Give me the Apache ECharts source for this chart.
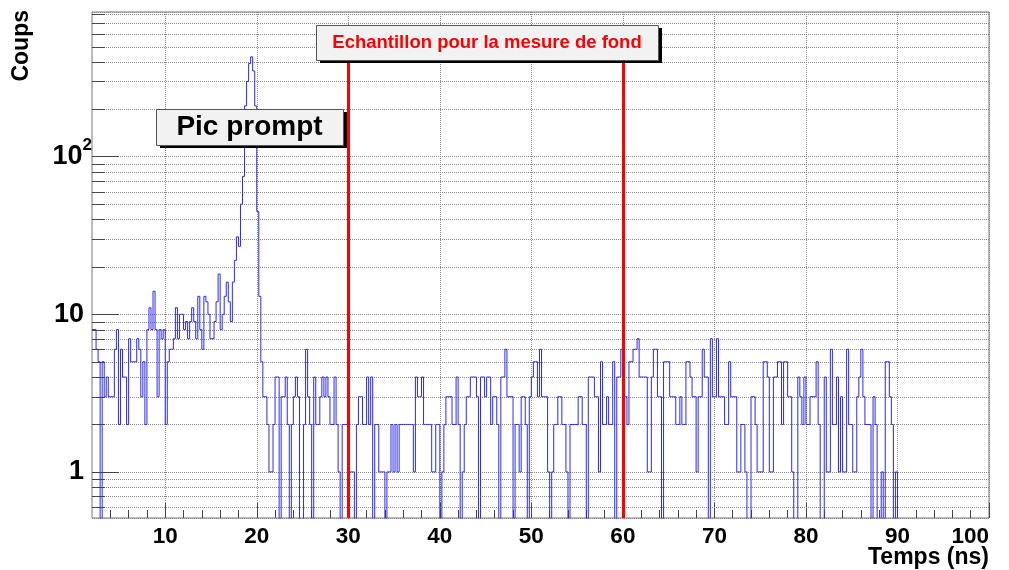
<!DOCTYPE html>
<html>
<head>
<meta charset="utf-8">
<title>Spectre en temps</title>
<script src="https://cdn.jsdelivr.net/npm/echarts@6/dist/echarts.min.js"></script>
<style>
  html, body { margin: 0; padding: 0; background: #ffffff; }
  #chart { width: 1009px; height: 570px; }
</style>
</head>
<body>
<div id="chart"></div>
<script>
// Histogram binning (ns)
const binStart = 2;
const binWidth = 2 / 9;

// Counts per bin, 9 bins per 2 ns, starting at 2 ns
const counts = [
  8, 8, 6, 5, 0, 5, 3, 4, 3,
  3, 3, 6, 8, 2, 6, 4, 4, 2,
  7, 5, 5, 5, 7, 6, 3, 5, 2,
  8, 11, 8, 14, 8, 3, 8, 7, 8,
  2, 5, 6, 6, 7, 11, 7, 10, 10,
  8, 9, 7, 9, 11, 9, 7, 13, 8,
  6, 13, 12, 10, 7, 7, 9, 12, 18,
  8, 10, 13, 16, 12, 9, 16, 22, 31,
  27, 50, 75, 210, 300, 390, 430, 350, 210,
  45, 13, 5, 3, 3, 2, 1, 1, 2,
  4, 4, 0, 3, 3, 4, 2, 0, 2,
  3, 4, 3, 0, 0, 2, 6, 3, 2,
  0, 4, 2, 2, 3, 4, 3, 4, 3,
  2, 2, 4, 2, 1, 0, 2, 2, 2,
  1, 1, 1, 0, 2, 3, 3, 2, 2,
  4, 2, 4, 0, 2, 2, 1, 1, 1,
  0, 1, 1, 2, 1, 2, 1, 2, 2,
  2, 2, 2, 2, 2, 1, 4, 3, 3,
  4, 2, 2, 2, 2, 1, 1, 2, 2,
  0, 1, 2, 3, 3, 3, 2, 2, 4,
  2, 0, 1, 2, 3, 3, 4, 4, 4,
  3, 0, 4, 4, 3, 4, 4, 2, 3,
  3, 2, 0, 4, 4, 6, 3, 3, 3,
  0, 2, 2, 1, 3, 3, 2, 0, 3,
  4, 5, 5, 3, 6, 3, 3, 3, 1,
  0, 1, 2, 2, 3, 3, 2, 2, 1,
  0, 2, 2, 2, 2, 3, 3, 2, 2,
  0, 4, 4, 4, 3, 3, 1, 5, 2,
  2, 3, 2, 2, 5, 0, 4, 4, 6,
  3, 3, 2, 5, 5, 6, 6, 7, 4,
  4, 4, 4, 1, 1, 4, 6, 6, 3,
  3, 0, 5, 5, 5, 3, 3, 3, 2,
  2, 3, 2, 2, 5, 5, 4, 3, 3,
  1, 3, 3, 6, 4, 4, 0, 7, 3,
  3, 7, 3, 3, 3, 2, 2, 5, 3,
  3, 3, 1, 1, 2, 2, 1, 0, 0,
  3, 3, 2, 1, 1, 1, 5, 5, 4,
  1, 1, 4, 4, 5, 5, 2, 5, 5,
  3, 3, 1, 0, 0, 4, 3, 2, 4,
  2, 2, 3, 3, 3, 5, 2, 0, 0,
  4, 1, 1, 6, 2, 2, 4, 1, 3,
  1, 1, 6, 2, 2, 1, 1, 3, 4,
  6, 3, 2, 2, 2, 0, 3, 2, 0,
  0, 1, 0, 5, 5, 3, 2, 0, 1
];

// Axis ranges and ticks
const xRange = [2, 100];
const yRange = [0.51, 828];
const xMajorTicks = [10, 20, 30, 40, 50, 60, 70, 80, 90, 100];
const xMinorTicks = [4, 6, 8, 12, 14, 16, 18, 22, 24, 26, 28, 32, 34, 36, 38, 42, 44, 46, 48,
                     52, 54, 56, 58, 62, 64, 66, 68, 72, 74, 76, 78, 82, 84, 86, 88, 92, 94, 96, 98];
const yMinorTicks = [0.6, 0.7, 0.8, 0.9, 2, 3, 4, 5, 6, 7, 8, 9,
                     20, 30, 40, 50, 60, 70, 80, 90, 200, 300, 400, 500, 600, 700, 800];
// label per decade: [mantissa text, exponent text]
const yTickLabels = { 1: ['1', ''], 10: ['10', ''], 100: ['10', '2'] };

// Background sample window (ns) and the top of its marker lines (counts)
const windowEdges = [30, 60];
const windowLineTop = 450;

const FONT = '"Liberation Sans", Arial, Helvetica, sans-serif';
const ZERO_FLOOR = 0.05; // empty bins sit below the axis and are clipped

// Step outline: one point per bin left edge, plus the closing edge
const stepData = counts.map((c, i) => [binStart + i * binWidth, c > 0 ? c : ZERO_FLOOR]);
stepData.push([binStart + counts.length * binWidth, ZERO_FLOOR]);

const dotted = { color: '#8a8a8a', width: 1, type: [1, 1] };

const option = {
  animation: false,
  backgroundColor: '#ffffff',
  grid: {
    left: 92, right: 20, top: 12, bottom: 52,
    show: true, borderColor: '#777777', borderWidth: 1,
    containLabel: false
  },
  xAxis: [
    {
      type: 'value', min: xRange[0], max: xRange[1], position: 'bottom',
      axisLine: { show: false },
      axisTick: { show: true, inside: true, length: 15, customValues: xMajorTicks,
                  lineStyle: { color: '#444', width: 1 } },
      axisLabel: { show: true, customValues: xMajorTicks, margin: 7, alignMaxLabel: 'right',
                   fontSize: 22.5, fontWeight: 'bold', fontFamily: FONT, color: '#000' },
      splitLine: { show: true, lineStyle: dotted }
    },
    {
      type: 'value', min: xRange[0], max: xRange[1], position: 'bottom',
      axisLine: { show: false },
      axisTick: { show: true, inside: true, length: 8, customValues: xMinorTicks,
                  lineStyle: { color: '#444', width: 1 } },
      axisLabel: { show: false },
      splitLine: { show: false }
    }
  ],
  yAxis: [
    {
      type: 'log', logBase: 10, min: yRange[0], max: yRange[1], position: 'left',
      axisLine: { show: false },
      axisTick: { show: true, inside: true, length: 27, lineStyle: { color: '#444', width: 1 } },
      axisLabel: {
        show: true, margin: 0, showMinLabel: false, showMaxLabel: false,
        formatter: function (v) {
          const lab = yTickLabels[Math.round(v)];
          if (lab === undefined) return '';
          return lab[1] ? '{b|' + lab[0] + '}{s|' + lab[1] + '}' : '{b|' + lab[0] + '}{p| }';
        },
        rich: {
          b: { fontSize: 27, lineHeight: 40, fontWeight: 'bold', fontFamily: FONT, color: '#000' },
          s: { fontSize: 17, lineHeight: 17, verticalAlign: 'top', fontWeight: 'bold', fontFamily: FONT, color: '#000' },
          p: { width: 8, fontSize: 17 }
        }
      },
      splitLine: { show: true, lineStyle: dotted }
    }
  ],
  series: [
    {
      name: 'Coups',
      type: 'line',
      step: 'end',
      data: stepData,
      showSymbol: false,
      clip: true,
      lineStyle: { color: '#2b2bf2', width: 1 },
      z: 3,
      markLine: {
        silent: true,
        symbol: ['none', 'none'],
        label: { show: false },
        lineStyle: { color: '#ff0000', width: 3, type: 'solid' },
        data: windowEdges.map(x => [{ coord: [x, yRange[0]] }, { coord: [x, windowLineTop] }])
      }
    }
  ]
};

const chart = echarts.init(document.getElementById('chart'), null, { renderer: 'canvas' });
chart.setOption(option);

// Log-axis minor grid lines and ticks, placed through the axis scale
const xL = chart.convertToPixel({ xAxisIndex: 0 }, xRange[0]);
const xR = chart.convertToPixel({ xAxisIndex: 0 }, xRange[1]);
const extra = [];
yMinorTicks.forEach(v => {
  const y = Math.round(chart.convertToPixel({ yAxisIndex: 0 }, v)) + 0.5;
  extra.push({ type: 'line', silent: true, z: 1,
    shape: { x1: xL, y1: y, x2: xR, y2: y },
    style: { stroke: '#8a8a8a', lineWidth: 1, lineDash: [1, 1] } });
  extra.push({ type: 'line', silent: true, z: 2,
    shape: { x1: xL, y1: y, x2: xL + 13, y2: y },
    style: { stroke: '#444', lineWidth: 1 } });
});

// Text box with a drop shadow, drawn above the plot
function pave(x, y, w, h, text, font, color) {
  return [
    { type: 'rect', silent: true, z: 20, shape: { x: x + 4, y: y + 3, width: w, height: h },
      style: { fill: '#000' } },
    { type: 'rect', silent: true, z: 21, shape: { x: x + 0.5, y: y + 0.5, width: w, height: h },
      style: { fill: '#f2f2f2', stroke: '#555', lineWidth: 1 } },
    { type: 'text', silent: true, z: 22, x: x + w / 2, y: y + h / 2,
      style: { text: text, font: font, fill: color, align: 'center', verticalAlign: 'middle' } }
  ];
}

const boxes = []
  .concat(pave(156, 109, 187, 36, 'Pic prompt', 'bold 28px ' + FONT, '#000'))
  .concat(pave(316, 25, 342, 35, 'Echantillon pour la mesure de fond', 'bold 18.5px ' + FONT, '#ff0000'));

const titles = [
  { type: 'text', silent: true, z: 10, x: 989, y: 558,
    style: { text: 'Temps (ns)', font: 'bold 23px ' + FONT, fill: '#000', align: 'right', verticalAlign: 'middle' } },
  { type: 'text', silent: true, z: 10, x: 22, y: 10, rotation: Math.PI / 2,
    style: { text: 'Coups', font: 'bold 23px ' + FONT, fill: '#000', align: 'right', verticalAlign: 'middle' } }
];

chart.setOption({ graphic: { elements: extra.concat(boxes, titles) } });
</script>
</body>
</html>
